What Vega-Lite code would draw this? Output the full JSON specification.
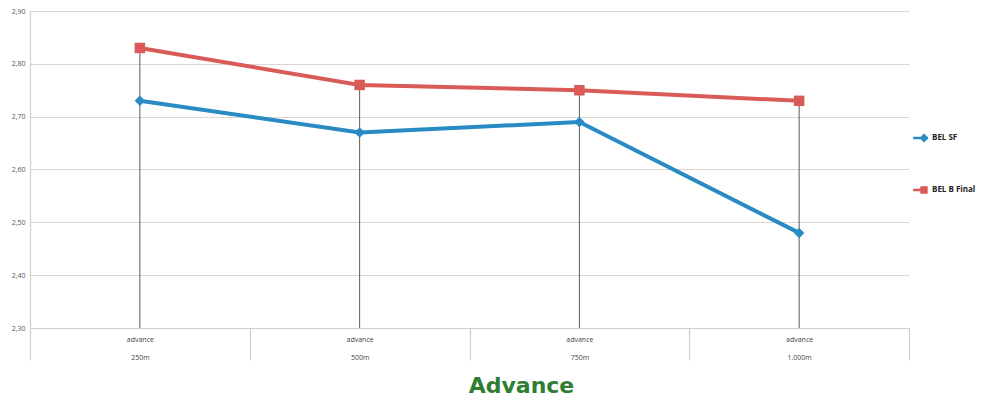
{
  "$schema": "https://vega.github.io/schema/vega-lite/v6.json",
  "autosize": {"type": "none"},
  "width": 879,
  "height": 317,
  "padding": {"left": 30, "top": 11, "right": 85, "bottom": 73},
  "background": "#ffffff",
  "config": {
    "view": {"stroke": null},
    "font": "Open Sans"
  },
  "data": {
    "values": [
      {"dist": "250m", "series": "BEL SF", "value": 2.73},
      {"dist": "500m", "series": "BEL SF", "value": 2.67},
      {"dist": "750m", "series": "BEL SF", "value": 2.69},
      {"dist": "1.000m", "series": "BEL SF", "value": 2.48},
      {"dist": "250m", "series": "BEL B Final", "value": 2.83},
      {"dist": "500m", "series": "BEL B Final", "value": 2.76},
      {"dist": "750m", "series": "BEL B Final", "value": 2.75},
      {"dist": "1.000m", "series": "BEL B Final", "value": 2.73}
    ]
  },
  "encoding": {
    "x": {
      "field": "dist",
      "type": "nominal",
      "sort": ["250m", "500m", "750m", "1.000m"],
      "scale": {"paddingInner": 0, "paddingOuter": 0},
      "axis": {
        "title": "Advance",
        "titleFont": "DejaVu Sans",
        "titleFontSize": 22,
        "titleFontWeight": "bold",
        "titleColor": "#2e7d32",
        "titleX": 491,
        "titleY": 64,
        "titleAlign": "center",
        "titleBaseline": "alphabetic",
        "labelAngle": 0,
        "labelExpr": "datum.label ? ['advance', datum.label] : ''",
        "labelFontSize": 7,
        "labelColor": "#444444",
        "labelLineHeight": 18,
        "labelPadding": -25,
        "labelBaseline": "top",
        "tickBand": "extent",
        "tickSize": 32,
        "tickColor": "#d6cec6",
        "tickWidth": 1.2,
        "domainColor": "#d6cec6",
        "domainWidth": 1.2,
        "grid": false
      }
    },
    "y": {
      "field": "value",
      "type": "quantitative",
      "scale": {"domain": [2.3, 2.9], "nice": false, "zero": false},
      "axis": {
        "title": null,
        "values": [2.3, 2.4, 2.5, 2.6, 2.7, 2.8, 2.9],
        "labelExpr": "replace(format(datum.value, '.2f'), '.', ',')",
        "labelFontSize": 7,
        "labelColor": "#555555",
        "labelPadding": 5,
        "ticks": false,
        "domainColor": "#d6cec6",
        "domainWidth": 1.2,
        "grid": true,
        "gridColor": "#ddd6cf",
        "gridWidth": 1
      }
    },
    "color": {
      "field": "series",
      "type": "nominal",
      "sort": ["BEL SF", "BEL B Final"],
      "scale": {"domain": ["BEL SF", "BEL B Final"], "range": ["#2a8ac4", "#d95b57"]},
      "legend": {
        "title": null,
        "orient": "none",
        "legendX": 890,
        "legendY": 123,
        "labelFont": "Open Sans",
        "labelFontWeight": "bold",
        "labelFontSize": 8,
        "labelColor": "#222222",
        "rowPadding": 43,
        "symbolSize": 60,
        "symbolType": "M-2.8,-0.35H1V0.35H-2.8Z M-1,-1H1V1H-1Z",
        "symbolStrokeWidth": 0,
        "labelOffset": 4,
        "encode": {
          "symbols": {
            "update": {
              "shape": {"signal": "datum.value === 'BEL SF' ? 'M-2.8,-0.35H1V0.35H-2.8Z M0,-1.15L1.15,0L0,1.15L-1.15,0Z' : 'M-2.8,-0.35H0V0.35H-2.8Z M-0.95,-0.95H0.95V0.95H-0.95Z'"},
              "fill": {"signal": "datum.value === 'BEL SF' ? '#2a8ac4' : '#d95b57'"},
              "fillOpacity": {"value": 1},
              "strokeWidth": {"value": 0}
            }
          }
        }
      }
    }
  },
  "layer": [
    {
      "transform": [
        {"aggregate": [{"op": "max", "field": "value", "as": "top"}], "groupby": ["dist"]},
        {"calculate": "2.3", "as": "base"}
      ],
      "mark": {"type": "rule", "color": "#5a5a5a", "strokeWidth": 1},
      "encoding": {
        "y": {"field": "base", "type": "quantitative"},
        "y2": {"field": "top"},
        "color": {"value": "#5a5a5a"}
      }
    },
    {
      "mark": {"type": "line", "strokeWidth": 4},
      "encoding": {}
    },
    {
      "transform": [{"filter": "datum.series === 'BEL SF'"}],
      "mark": {"type": "point", "shape": "diamond", "filled": true, "opacity": 1, "size": 110},
      "encoding": {}
    },
    {
      "transform": [{"filter": "datum.series === 'BEL B Final'"}],
      "mark": {"type": "point", "shape": "square", "filled": true, "opacity": 1, "size": 110},
      "encoding": {}
    }
  ]
}
